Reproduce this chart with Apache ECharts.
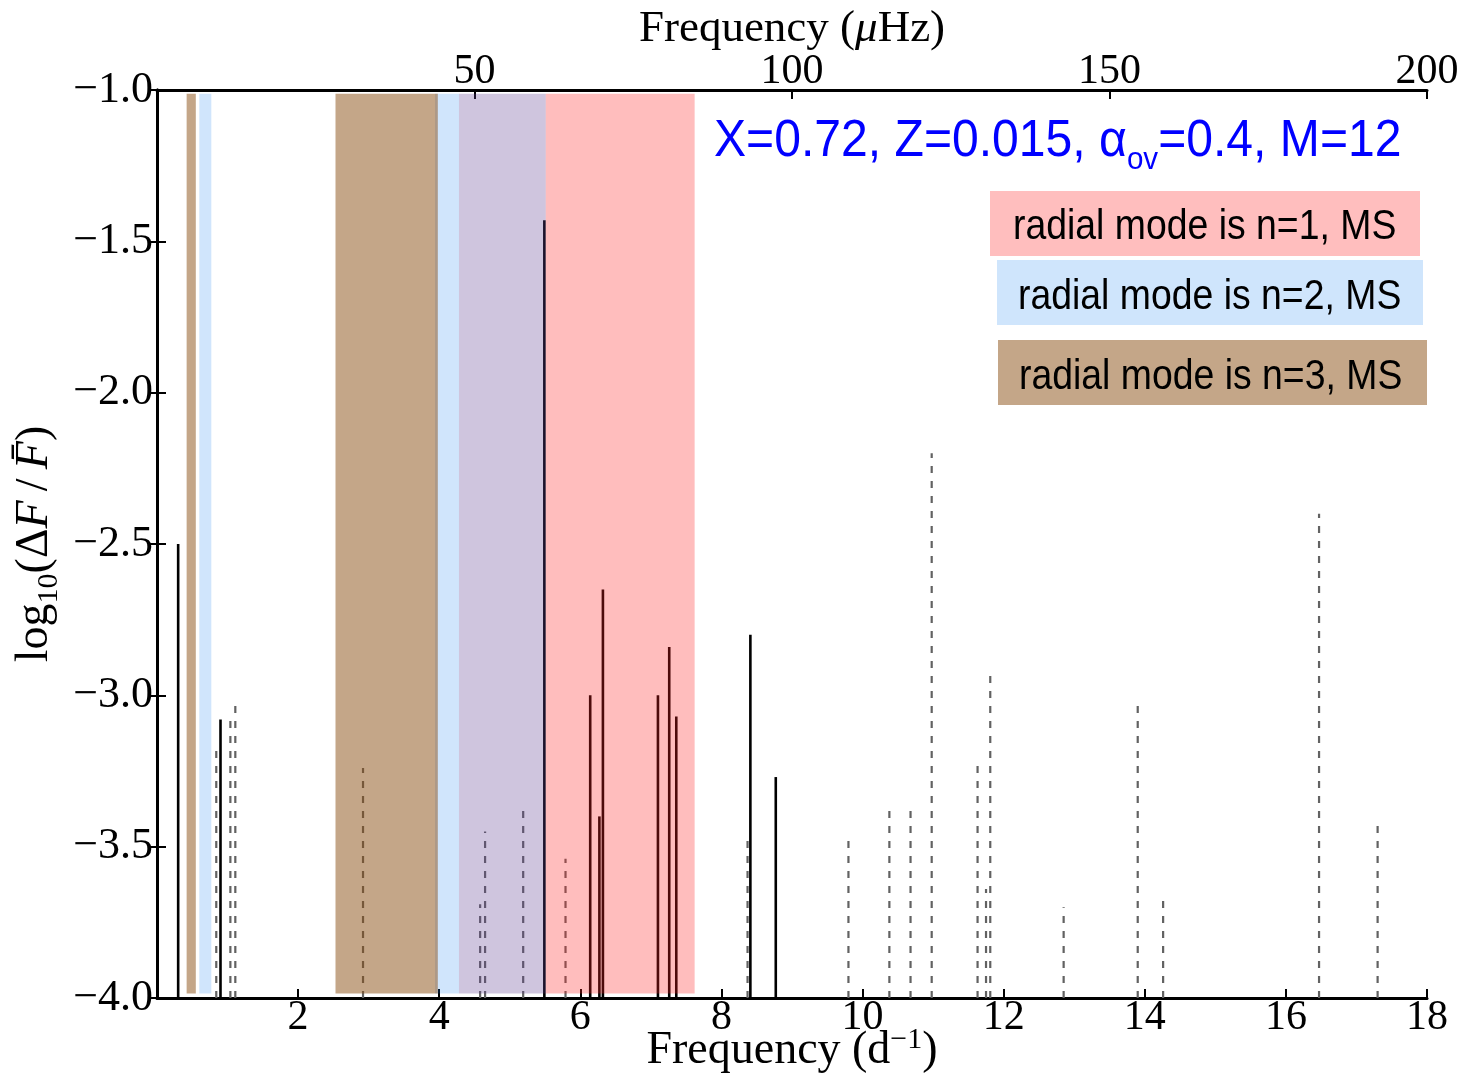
<!DOCTYPE html>
<html>
<head>
<meta charset="utf-8">
<title>Frequency spectrum with radial-mode ranges</title>
<script src="https://cdn.jsdelivr.net/npm/echarts@6/dist/echarts.min.js"></script>
<style>
  html, body { margin: 0; padding: 0; background: #fff; }
  #chart { width: 1469px; height: 1075px; }
</style>
</head>
<body>
<div id="chart"></div>
<script>
// Mode frequencies (d^-1) and log10 amplitudes: solid = unstable modes
const solidFreq = [0.30, 0.90, 5.49, 6.14, 6.27, 6.32, 7.10, 7.26, 7.36, 8.41, 8.77];
const solidAmp  = [-2.50, -3.08, -1.43, -3.00, -3.40, -2.65, -3.00, -2.84, -3.07, -2.80, -3.27];

// Dashed = remaining modes
const dashedFreq = [0.84, 1.04, 1.11, 2.92, 4.58, 4.65, 5.19, 5.79, 8.37, 9.80, 10.38,
                    10.68, 10.98, 11.63, 11.75, 11.81, 12.85, 13.90, 14.26, 16.47, 17.30];
const dashedAmp  = [-3.18, -3.07, -3.03, -3.24, -3.69, -3.45, -3.37, -3.54, -3.47, -3.48, -3.38,
                    -3.38, -2.20, -3.21, -3.64, -2.93, -3.70, -3.03, -3.67, -2.40, -3.42];

// Frequency ranges of the radial modes (d^-1)
const bandStart = [0.42, 0.60, 3.94, 2.53, 4.28, 5.51];
const bandEnd   = [0.55, 0.77, 4.28, 3.98, 5.51, 7.62];
const bandMode  = ['n3', 'n2', 'n2', 'n3', 'n12', 'n1'];

// Axis ticks
const yTicks = [-4.0, -3.5, -3.0, -2.5, -2.0, -1.5, -1.0];
const dTicks = [0, 2, 4, 6, 8, 10, 12, 14, 16, 18];
const uHzTicks = [0, 50, 100, 150, 200];

const legendLabels = ['radial mode is n=1, MS', 'radial mode is n=2, MS', 'radial mode is n=3, MS'];

// Styling
const bandFill = {
  n1: 'rgba(255,38,38,0.3)',
  n2: 'rgba(20,125,240,0.2)',
  n3: 'rgba(137,77,17,0.5)',
  n12: 'rgba(95,62,145,0.3)'
};
const legendFill = ['#FFBEBE', '#CFE5FC', '#C4A688'];
const BAND_TOP = -1.012;
const BAND_BOTTOM = -3.985;
const SERIF = '"Liberation Serif", "DejaVu Serif", serif';
const SANS = '"Liberation Sans", Arial, sans-serif';
const fmtMinus = v => (v < 0 ? '\u2212' : '') + Math.abs(v).toFixed(1);

const chart = echarts.init(document.getElementById('chart'), null, { renderer: 'canvas' });

function stemRenderer(color, width, dash) {
  return function (params, api) {
    const x = api.value(0);
    const top = api.coord([x, api.value(1)]);
    const base = api.coord([x, yTicks[0]]);
    return {
      type: 'line',
      shape: { x1: base[0], y1: base[1], x2: top[0], y2: top[1] },
      style: { stroke: color, lineWidth: width, lineDash: dash, fill: null }
    };
  };
}

const axisLineStyle = { lineStyle: { color: '#000', width: 3 } };
const tickStyle = { inside: true, length: 9, lineStyle: { color: '#000', width: 2 } };

const option = {
  animation: false,
  backgroundColor: '#fff',
  grid: { left: 157, right: 42, top: 90, bottom: 77, containLabel: false, outerBoundsMode: 'none' },
  xAxis: [
    {
      type: 'value', position: 'bottom', min: dTicks[0], max: dTicks[dTicks.length - 1], interval: 2,
      axisLine: axisLineStyle, axisTick: tickStyle, splitLine: { show: false },
      axisLabel: {
        margin: -1, fontFamily: SERIF, fontSize: 42, color: '#000',
        formatter: v => (v === 0 ? '' : String(v))
      },
      name: '{t|Frequency (d}{sup|\u22121}{t|)}',
      nameLocation: 'middle', nameGap: 27, nameMoveOverlap: false,
      nameTextStyle: {
        rich: {
          t: { fontFamily: SERIF, fontSize: 46, color: '#000', lineHeight: 52 },
          sup: { fontFamily: SERIF, fontSize: 30, color: '#000', verticalAlign: 'top', lineHeight: 48 }
        }
      }
    },
    {
      type: 'value', position: 'top', min: uHzTicks[0], max: uHzTicks[uHzTicks.length - 1], interval: 50,
      axisLine: axisLineStyle, axisTick: tickStyle, splitLine: { show: false },
      axisLabel: {
        margin: -3, fontFamily: SERIF, fontSize: 42, color: '#000',
        formatter: v => (v === 0 ? '' : String(v))
      },
      name: '{t|Frequency (}{i|\u03bc}{t|Hz)}',
      nameLocation: 'middle', nameGap: 38, nameMoveOverlap: false,
      nameTextStyle: {
        rich: {
          t: { fontFamily: SERIF, fontSize: 45, color: '#000' },
          i: { fontFamily: SERIF, fontSize: 45, color: '#000', fontStyle: 'italic' }
        }
      }
    }
  ],
  yAxis: [
    {
      type: 'value', position: 'left', min: yTicks[0], max: yTicks[yTicks.length - 1], interval: 0.5,
      axisLine: axisLineStyle, axisTick: tickStyle, splitLine: { show: false },
      axisLabel: { margin: 4, fontFamily: SERIF, fontSize: 44, color: '#000', formatter: fmtMinus },
      name: '{t|log}{sub|10}{t|(\u0394}{i|F}{t|\u2009/\u2009}{i|F\u0304}{t|)}',
      nameLocation: 'middle', nameGap: 93, nameRotate: 90, nameMoveOverlap: false,
      nameTextStyle: {
        rich: {
          t: { fontFamily: SERIF, fontSize: 46, color: '#000', lineHeight: 58 },
          i: { fontFamily: SERIF, fontSize: 46, color: '#000', fontStyle: 'italic', lineHeight: 58 },
          sub: { fontFamily: SERIF, fontSize: 30, color: '#000', verticalAlign: 'bottom', lineHeight: 58 }
        }
      }
    },
    {
      type: 'value', position: 'right', min: yTicks[0], max: yTicks[yTicks.length - 1], interval: 0.5,
      axisLine: axisLineStyle, axisTick: tickStyle, splitLine: { show: false },
      axisLabel: { show: false }
    }
  ],
  series: [
    {
      name: 'other modes', type: 'custom', xAxisIndex: 0, yAxisIndex: 0, z: 2,
      renderItem: stemRenderer('#626262', 2.2, [7, 8]),
      data: dashedFreq.map((f, i) => [f, dashedAmp[i]])
    },
    {
      name: 'unstable modes', type: 'custom', xAxisIndex: 0, yAxisIndex: 0, z: 3,
      renderItem: stemRenderer('#000000', 2.6, null),
      data: solidFreq.map((f, i) => [f, solidAmp[i]])
    },
    {
      name: 'radial ranges', type: 'custom', xAxisIndex: 0, yAxisIndex: 0, z: 5,
      encode: { x: [0, 1] },
      renderItem: function (params, api) {
        const p0 = api.coord([api.value(0), BAND_TOP]);
        const p1 = api.coord([api.value(1), BAND_BOTTOM]);
        return {
          type: 'rect',
          shape: { x: p0[0], y: p0[1], width: p1[0] - p0[0], height: p1[1] - p0[1] },
          style: { fill: bandFill[bandMode[params.dataIndex]] }
        };
      },
      data: bandStart.map((s, i) => [s, bandEnd[i]])
    }
  ],
  graphic: [
    {
      type: 'text', x: 714, y: 108, scaleX: 0.925, scaleY: 1, z: 20,
      style: {
        text: '{m|X=0.72, Z=0.015, \u03b1}{s|ov}{m|=0.4, M=12}',
        rich: {
          m: { fontFamily: SANS, fontSize: 52, fill: '#0000ff', lineHeight: 68 },
          s: { fontFamily: SANS, fontSize: 32, fill: '#0000ff', lineHeight: 68, verticalAlign: 'bottom' }
        }
      }
    },
    { type: 'rect', z: 20, shape: { x: 990, y: 191, width: 430, height: 65 }, style: { fill: legendFill[0] } },
    { type: 'rect', z: 20, shape: { x: 997, y: 260, width: 426, height: 65 }, style: { fill: legendFill[1] } },
    { type: 'rect', z: 20, shape: { x: 998, y: 340, width: 429, height: 65 }, style: { fill: legendFill[2] } },
    { type: 'text', z: 21, x: 1013, y: 206, scaleX: 0.89, style: { text: legendLabels[0], font: '42px ' + SANS, fill: '#000' } },
    { type: 'text', z: 21, x: 1018, y: 276, scaleX: 0.89, style: { text: legendLabels[1], font: '42px ' + SANS, fill: '#000' } },
    { type: 'text', z: 21, x: 1019, y: 356, scaleX: 0.89, style: { text: legendLabels[2], font: '42px ' + SANS, fill: '#000' } }
  ]
};

chart.setOption(option);
</script>
</body>
</html>
